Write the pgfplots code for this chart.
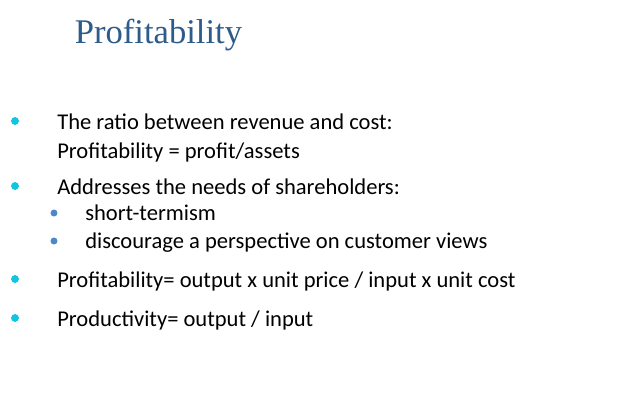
\documentclass[border=0pt]{standalone}
\usepackage{pgfplots}
\pgfplotsset{compat=1.18}
\usepackage{fontspec}
\setmainfont{Carlito}
\newfontfamily\titlefont{Liberation Serif}
\definecolor{titleblue}{HTML}{2E5C8A}
\definecolor{cyanb}{HTML}{11C4E0}
\definecolor{subb}{HTML}{4F86C6}
\begin{document}
\begin{tikzpicture}
\begin{axis}[scale only axis, width=6.24in, height=4.05in,
  xmin=0, xmax=624, ymin=0, ymax=405, y dir=reverse,
  axis lines=none, clip=false]
\path (axis cs:0,0) rectangle (axis cs:624,405);
\addplot[only marks, mark=*, mark size=2.6pt, color=cyanb] coordinates {(15,121) (15,186) (15,279) (15,318)};
\addplot[only marks, mark=*, mark size=2.3pt, color=subb] coordinates {(54,213) (54,241)};
\node[anchor=base west, text=titleblue, font=\titlefont\fontsize{25}{30}\selectfont] at (axis cs:70,44) {Profitability};
\begin{scope}[every node/.style={anchor=base west, inner sep=0pt, font=\fontsize{16.3}{18}\selectfont}]
\node at (axis cs:57,129) {The ratio between revenue and cost:};
\node at (axis cs:57,158) {Profitability = profit/assets};
\node at (axis cs:57,194) {Addresses the needs of shareholders:};
\node at (axis cs:85,220) {short-termism};
\node at (axis cs:85,248) {discourage a perspective on customer views};
\node at (axis cs:57,287) {Profitability= output x unit price / input x unit cost};
\node at (axis cs:57,326) {Productivity= output / input};
\end{scope}
\end{axis}
\end{tikzpicture}
\end{document}
